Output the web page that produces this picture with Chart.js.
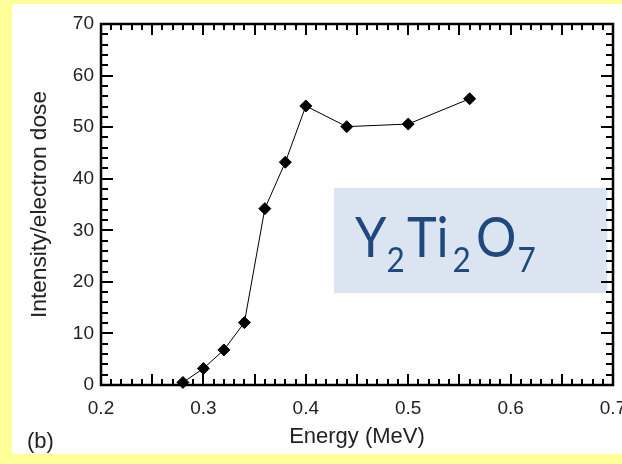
<!DOCTYPE html>
<html><head><meta charset="utf-8">
<script src="https://cdn.jsdelivr.net/npm/chart.js@4.4.1/dist/chart.umd.min.js"></script>
<style>html,body{margin:0;padding:0;background:#ffff99;overflow:hidden}</style>
</head><body>
<canvas id="c" width="622" height="464" style="display:block;width:622px;height:464px"></canvas>
<script>
// ---- data ----
const energy = [0.28, 0.30, 0.32, 0.34, 0.36, 0.38, 0.40, 0.44, 0.50, 0.56];
const intensity = [0.5, 3.2, 6.8, 12.1, 34.2, 43.2, 54.1, 50.1, 50.6, 55.5];
const xTickLabels = [0.2, 0.3, 0.4, 0.5, 0.6, 0.7];
const yTickLabels = [0, 10, 20, 30, 40, 50, 60, 70];
const xRange = [0.2, 0.7];
const yRange = [0, 70];
const panelLabel = '(b)';
const formulaParts = ['Y', '2', 'Ti', '2', 'O', '7'];
const formulaIsSub = [false, true, false, true, false, true];
// box in data coordinates
const boxX = [0.4275, 0.6945];
const boxY = [17.8, 38.25];

const tickFont = {family: 'Liberation Sans, Arial, sans-serif', size: 19};
const titleFont = {family: 'Liberation Sans, Arial, sans-serif', size: 22};
const yTitleFont = {family: 'Liberation Sans, Arial, sans-serif', size: 22.7};

const bgPlugin = {
  id: 'bg',
  beforeDraw(chart) {
    const ctx = chart.ctx;
    ctx.save();
    ctx.fillStyle = '#ffff99';
    ctx.fillRect(0, 0, chart.width, chart.height);
    ctx.fillStyle = '#ffffff';
    ctx.fillRect(12, 4, chart.width - 12, 450);
    ctx.restore();
  },
  beforeDatasetsDraw(chart) {
    const ctx = chart.ctx, a = chart.chartArea, xs = chart.scales.x, ys = chart.scales.y;
    ctx.save();
    // text box
    const bx0 = xs.getPixelForValue(boxX[0]), bx1 = xs.getPixelForValue(boxX[1]);
    const by0 = ys.getPixelForValue(boxY[1]), by1 = ys.getPixelForValue(boxY[0]);
    ctx.fillStyle = '#dbe5f1';
    ctx.fillRect(bx0, by0, bx1 - bx0, by1 - by0);
    ctx.fillStyle = '#1f497d';
    ctx.textBaseline = 'alphabetic';
    const offs = [21, 52.5, 73, 118.5, 142, 183.5];
    const base = by0 + 69;
    formulaParts.forEach((t, i) => {
      const sub = formulaIsSub[i];
      ctx.save();
      ctx.font = sub ? '35px Lato, "Open Sans", sans-serif' : '56px Lato, "Open Sans", sans-serif';
      ctx.translate(bx0 + offs[i], sub ? base + 15 : base);
      ctx.scale(0.9, 1);
      ctx.fillText(t, 0, 0);
      ctx.restore();
    });
    // ticks (inward, all four sides)
    ctx.strokeStyle = '#000';
    ctx.lineWidth = 2;
    ctx.beginPath();
    for (let i = 0; i <= 50; i++) {
      const px = Math.round(xs.getPixelForValue(xRange[0] + i * 0.01));
      const len = (i % 5 === 0) ? 11 : 6;
      ctx.moveTo(px, a.bottom); ctx.lineTo(px, a.bottom - len);
      ctx.moveTo(px, a.top); ctx.lineTo(px, a.top + len);
    }
    for (let i = 0; i <= 35; i++) {
      const py = Math.round(ys.getPixelForValue(yRange[0] + i * 2));
      const len = (i % 5 === 0) ? 12 : 7;
      ctx.moveTo(a.left, py); ctx.lineTo(a.left + len, py);
      ctx.moveTo(a.right, py); ctx.lineTo(a.right - len, py);
    }
    ctx.stroke();
    ctx.lineWidth = 2.5;
    ctx.strokeRect(a.left, a.top, a.right - a.left, a.bottom - a.top);
    // panel label
    ctx.fillStyle = '#222';
    ctx.font = '22px "Liberation Sans", Arial, sans-serif';
    ctx.textBaseline = 'middle';
    ctx.fillText(panelLabel, 27, 442);
    ctx.restore();
  }
};

new Chart(document.getElementById('c'), {
  type: 'line',
  data: {
    datasets: [{
      data: energy.map((e, i) => ({x: e, y: intensity[i]})),
      borderColor: '#000',
      borderWidth: 1,
      pointStyle: 'rectRot',
      pointRadius: 6,
      pointBackgroundColor: '#000',
      pointBorderColor: '#000',
      pointBorderWidth: 1,
      tension: 0,
      clip: false
    }]
  },
  options: {
    responsive: false,
    animation: false,
    devicePixelRatio: 1,
    layout: {padding: {left: 0, top: 24, right: 9, bottom: 0}},
    plugins: {legend: {display: false}, tooltip: {enabled: false}},
    scales: {
      x: {
        type: 'linear', min: xRange[0], max: xRange[1],
        afterBuildTicks: s => { s.ticks = xTickLabels.map(v => ({value: v})); },
        afterFit: s => { s.height = 79; s.paddingLeft = 0; s.paddingRight = 0; },
        ticks: {color: '#222', font: tickFont, padding: 12, autoSkip: false, maxRotation: 0,
                callback: v => Number(v).toFixed(1)},
        grid: {display: false, drawTicks: false},
        border: {display: false},
        title: {display: true, text: 'Energy (MeV)', color: '#222', font: titleFont, padding: {top: 0, bottom: 14}}
      },
      y: {
        type: 'linear', min: yRange[0], max: yRange[1],
        afterBuildTicks: s => { s.ticks = yTickLabels.map(v => ({value: v})); },
        afterFit: s => { s.width = 101; s.paddingTop = 0; s.paddingBottom = 0; },
        ticks: {color: '#222', font: tickFont, padding: 7, autoSkip: false},
        grid: {display: false, drawTicks: false},
        border: {display: false},
        title: {display: true, text: 'Intensity/electron dose', color: '#222', font: yTitleFont, padding: {top: 26, bottom: 0}}
      }
    }
  },
  plugins: [bgPlugin]
});
</script>
</body></html>
